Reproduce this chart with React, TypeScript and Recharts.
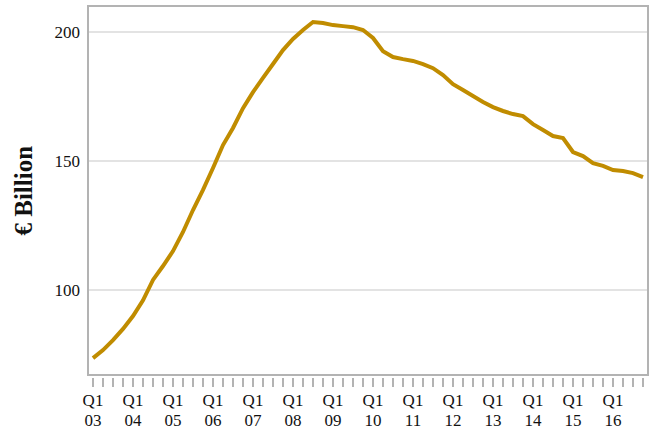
import React from "react";
import { LineChart, Line, XAxis, YAxis, CartesianGrid, ReferenceArea } from "recharts";

const years = ["03", "04", "05", "06", "07", "08", "09", "10", "11", "12", "13", "14", "15", "16"];
const values = [
  73.6, 76.7, 80.6, 84.9, 89.9, 96.0, 103.9, 109.3, 115.1, 122.5, 131.0, 138.8,
  147.3, 156.2, 162.8, 170.5, 176.7, 182.2, 187.6, 193.0, 197.3, 200.8, 203.9, 203.5,
  202.7, 202.3, 201.9, 200.8, 197.7, 192.6, 190.3, 189.5, 188.8, 187.6, 186.0, 183.3,
  179.8, 177.5, 175.2, 172.9, 170.9, 169.4, 168.2, 167.4, 164.3, 162.0, 159.7, 158.9,
  153.5, 151.9, 149.2, 148.1, 146.5, 146.1, 145.3, 143.8,
];
const yTicks = [100, 150, 200];

const data = values.map((v, i) => ({ i, v }));
const xTicks = values.map((_, i) => i);
const FONT = "'Liberation Serif', 'DejaVu Serif', serif";
const GOLD = "#c08c00";
const FRAME = "#b3b3b3";

function QuarterTick({ x, y, payload }: any) {
  const i = payload.value as number;
  return (
    <g>
      <line x1={x} x2={x} y1={y - 5} y2={y + 4} stroke={FRAME} strokeWidth={2} />
      {i % 4 === 0 && (
        <text x={x} y={y + 23} textAnchor="middle" fontFamily={FONT} fontSize={17} fill="#111">
          <tspan x={x}>Q1</tspan>
          <tspan x={x} dy={20}>{years[i / 4]}</tspan>
        </text>
      )}
    </g>
  );
}

export default function App() {
  return (
    <div style={{ position: "absolute", left: 0, top: 0, background: "#fff" }}>
      <LineChart width={650} height={430} data={data} margin={{ top: 6, right: 2, left: 0, bottom: 25 }}>
        <CartesianGrid vertical={false} stroke="#e3e3e3" strokeWidth={2} />
        <ReferenceArea x1={-0.5} x2={55.5} y1={67.05} y2={210.1} fill="none" stroke={FRAME} strokeWidth={2} ifOverflow="extendDomain" />
        <XAxis
          dataKey="i"
          type="number"
          domain={[-0.5, 55.5]}
          ticks={xTicks}
          interval={0}
          tick={<QuarterTick />}
          tickLine={false}
          axisLine={false}
        />
        <YAxis
          domain={[67.05, 210.1]}
          ticks={yTicks}
          width={88}
          tickLine={false}
          axisLine={false}
          tick={{ fontFamily: FONT, fontSize: 17, fill: "#111" }}
          label={{ value: "€ Billion", angle: -90, position: "insideLeft", dx: 18, dy: 45, style: { fontFamily: FONT, fontSize: 25, fontWeight: "bold", fill: "#111" } }}
        />
        <Line type="linear" dataKey="v" stroke={GOLD} strokeWidth={4} dot={false} isAnimationActive={false} />
      </LineChart>
    </div>
  );
}
